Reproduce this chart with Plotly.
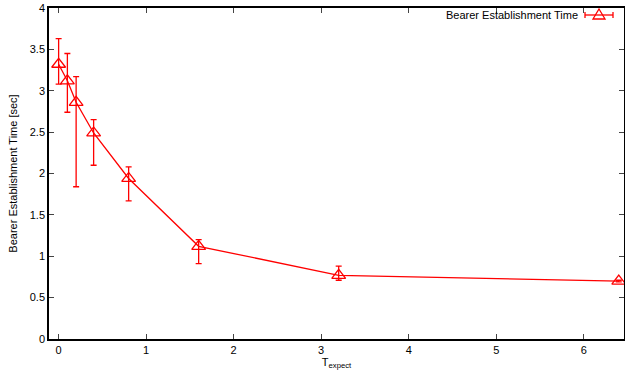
import plotly.graph_objects as go

# Data
t_expect = [0, 0.1, 0.2, 0.4, 0.8, 1.6, 3.2, 6.4]
bearer_time = [3.32, 3.12, 2.86, 2.49, 1.94, 1.12, 0.77, 0.70]
err_upper = [3.63, 3.45, 3.17, 2.65, 2.08, 1.20, 0.88, 0.71]
err_lower = [3.08, 2.74, 1.84, 2.10, 1.67, 0.91, 0.71, 0.69]

x_ticks = [0, 1, 2, 3, 4, 5, 6]
y_ticks = [0, 0.5, 1, 1.5, 2, 2.5, 3, 3.5, 4]
y_tick_labels = ["0", "0.5", "1", "1.5", "2", "2.5", "3", "3.5", "4"]
legend_label = "Bearer Establishment Time"

RED = "#ff0000"
FONT = "Liberation Sans, Arial, sans-serif"

plus = [u - v for u, v in zip(err_upper, bearer_time)]
minus = [v - l for v, l in zip(bearer_time, err_lower)]

fig = go.Figure()
fig.add_trace(go.Scatter(
    x=t_expect, y=bearer_time, mode="lines+markers", name=legend_label,
    line=dict(color=RED, width=1.3),
    marker=dict(symbol="triangle-up-open", size=12, color=RED, line=dict(width=1.3, color=RED)),
    error_y=dict(type="data", symmetric=False, array=plus, arrayminus=minus,
                 color=RED, thickness=1.3, width=3),
    showlegend=False, cliponaxis=False,
))

# Gnuplot-style key: text on the left, sample on the right (paper coordinates)
def px(x):
    return (x - 49) / 575.0

def py(y):
    return (339 - y) / 331.0

shapes = []
ly = py(15)
shapes.append(dict(type="line", xref="paper", yref="paper", x0=px(585), x1=px(613), y0=ly, y1=ly,
                   line=dict(color=RED, width=1.3)))
for cx in (585, 613):
    shapes.append(dict(type="line", xref="paper", yref="paper", x0=px(cx), x1=px(cx),
                       y0=py(12), y1=py(18), line=dict(color=RED, width=1.3)))
tri = "M {} {} L {} {} L {} {} Z".format(px(593), py(19), px(605), py(19), px(599), py(9))
shapes.append(dict(type="path", xref="paper", yref="paper", path=tri,
                   line=dict(color=RED, width=1.3)))

fig.update_layout(
    width=625, height=381,
    margin=dict(l=49, r=1, t=8, b=42),
    paper_bgcolor="white", plot_bgcolor="white",
    font=dict(family=FONT, size=11, color="#000000"),
    shapes=shapes,
    annotations=[dict(text=legend_label, xref="paper", yref="paper", x=px(580), y=ly,
                      xanchor="right", yanchor="middle", showarrow=False,
                      font=dict(family=FONT, size=11, color="#000000"))],
    xaxis=dict(range=[-0.11, 6.46], tickvals=x_ticks, ticks="inside", ticklen=5,
               showline=True, linecolor="#000000", linewidth=1.5, mirror="ticks",
               showgrid=False, zeroline=False, tickfont=dict(size=11), automargin=False,
               title=dict(text="T<sub>expect</sub>", font=dict(size=11), standoff=3)),
    yaxis=dict(range=[0, 4], tickvals=y_ticks, ticktext=y_tick_labels, ticks="inside", ticklen=5,
               showline=True, linecolor="#000000", linewidth=1.5, mirror="ticks",
               showgrid=False, zeroline=False, tickfont=dict(size=11), automargin=False,
               title=dict(text="Bearer Establishment Time [sec]", font=dict(size=11), standoff=10)),
)

fig.write_html("out.html", config={"displayModeBar": False},
               post_script="document.body.style.margin='0px';")
